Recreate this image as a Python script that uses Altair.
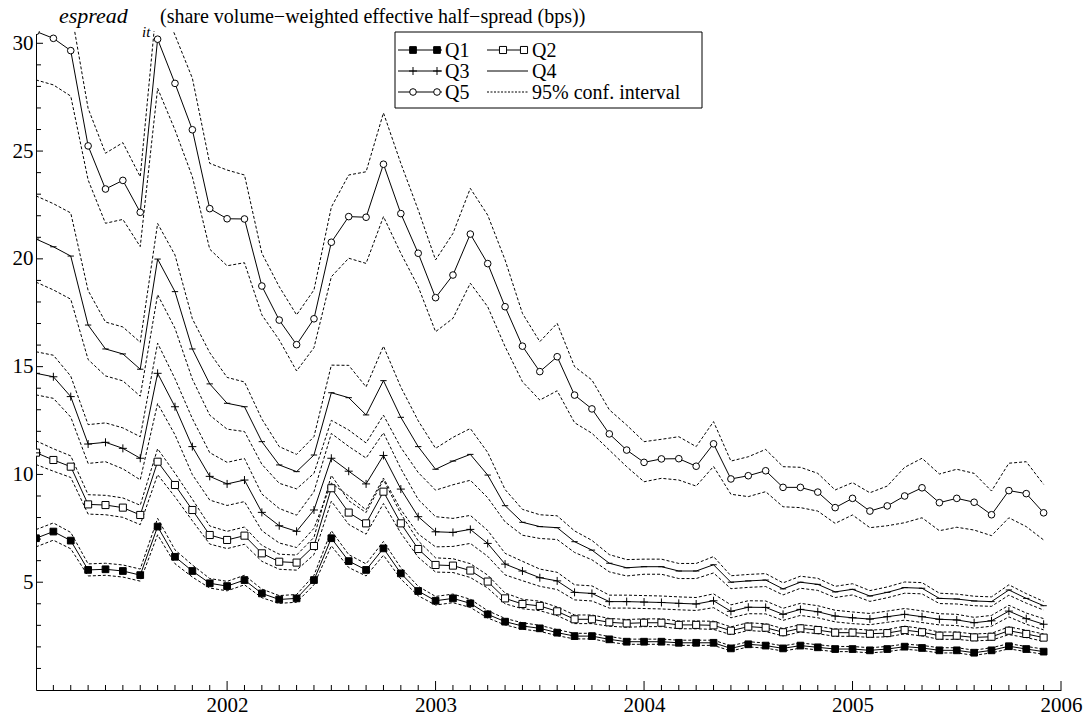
import altair as alt
import pandas as pd

# Monthly observations, Feb 2001 ... Dec 2005 (59 months)
n_months = 59
t_vals = [2001 + (i + 1) / 12 for i in range(n_months)]

q1 = [7.04, 7.35, 6.93, 5.57, 5.6, 5.52, 5.33, 7.58, 6.18, 5.52,
      4.95, 4.82, 5.1, 4.48, 4.2, 4.25, 5.1, 7.04, 5.98, 5.57,
      6.57, 5.41, 4.59, 4.14, 4.25, 4.02, 3.51, 3.17, 2.97, 2.86,
      2.66, 2.5, 2.5, 2.35, 2.24, 2.24, 2.24, 2.19, 2.19, 2.19,
      1.93, 2.12, 2.06, 1.93, 2.06, 1.98, 1.9, 1.9, 1.84, 1.9,
      2.01, 1.95, 1.84, 1.84, 1.73, 1.84, 2.03, 1.9, 1.78]
q2 = [11.01, 10.67, 10.36, 8.61, 8.58, 8.46, 8.12, 10.59, 9.51, 8.35,
      7.19, 6.96, 7.16, 6.34, 5.95, 5.91, 6.68, 9.36, 8.23, 7.73,
      9.2, 7.73, 6.54, 5.8, 5.77, 5.54, 5.03, 4.25, 3.99, 3.9,
      3.65, 3.28, 3.28, 3.14, 3.09, 3.12, 3.12, 3.02, 3.02, 3.0,
      2.75, 2.94, 2.89, 2.68, 2.86, 2.78, 2.66, 2.66, 2.61, 2.64,
      2.78, 2.68, 2.52, 2.52, 2.44, 2.47, 2.75, 2.6, 2.43]
q3 = [14.69, 14.53, 13.61, 11.41, 11.49, 11.21, 10.75, 14.69, 13.14, 11.29,
      9.91, 9.56, 9.74, 8.24, 7.62, 7.36, 8.35, 10.75, 10.15, 9.56,
      10.88, 9.32, 8.04, 7.34, 7.31, 7.45, 6.8, 5.84, 5.52, 5.21,
      5.06, 4.53, 4.48, 4.1, 4.1, 4.08, 4.06, 4.02, 3.99, 4.14,
      3.65, 3.84, 3.83, 3.51, 3.74, 3.63, 3.43, 3.35, 3.29, 3.4,
      3.51, 3.4, 3.28, 3.25, 3.12, 3.21, 3.66, 3.31, 3.05]
q4 = [20.92, 20.56, 20.13, 16.93, 15.82, 15.59, 14.88, 19.99, 18.48, 15.82,
      14.2, 13.3, 13.14, 11.52, 10.44, 10.13, 10.9, 13.79, 13.56, 12.76,
      14.35, 12.65, 11.29, 10.24, 10.62, 10.93, 9.97, 8.55, 7.78, 7.58,
      7.53, 6.88, 6.49, 5.88, 5.67, 5.72, 5.72, 5.52, 5.52, 5.81,
      5.0, 5.06, 5.1, 4.69, 5.0, 4.9, 4.55, 4.67, 4.36, 4.53,
      4.75, 4.72, 4.25, 4.22, 4.13, 4.1, 4.64, 4.25, 3.91]
q5 = [30.55, 30.23, 29.66, 25.24, 23.24, 23.64, 22.16, 30.19, 28.14, 25.99,
      22.33, 21.86, 21.85, 18.74, 17.16, 16.02, 17.22, 20.77, 21.96, 21.93,
      24.39, 22.1, 20.26, 18.2, 19.25, 21.15, 19.78, 17.78, 15.95, 14.77,
      15.46, 13.68, 13.04, 11.88, 11.13, 10.56, 10.72, 10.73, 10.38, 11.42,
      9.79, 9.94, 10.17, 9.4, 9.4, 9.18, 8.46, 8.89, 8.3, 8.54,
      9.0, 9.38, 8.69, 8.89, 8.71, 8.13, 9.25, 9.11, 8.22]

# 95% confidence bounds for Q5
q5_hi = [32.6, 32.3, 31.6, 26.98, 24.9, 25.39, 23.81, 32.3, 30.38, 28.38,
         24.43, 24.12, 23.89, 20.26, 18.71, 17.4, 18.56, 22.4, 23.89, 24.04,
         26.77, 24.43, 22.27, 19.95, 21.18, 23.27, 22.03, 19.95, 17.47, 16.16,
         17.01, 15.0, 14.38, 13.0, 12.29, 11.52, 11.63, 11.75, 11.29, 12.45,
         10.62, 10.82, 11.16, 10.36, 10.33, 10.05, 9.28, 9.62, 9.15, 9.46,
         10.33, 10.75, 10.02, 10.24, 10.05, 9.23, 10.52, 10.59, 9.54]
q5_lo = [28.3, 28.07, 27.55, 23.66, 21.65, 21.83, 20.57, 27.91, 25.98, 23.81,
         20.45, 19.68, 19.82, 17.4, 16.24, 14.8, 15.88, 19.17, 20.03, 19.79,
         21.96, 20.26, 18.71, 16.62, 17.24, 18.87, 17.78, 15.93, 14.3, 13.45,
         13.88, 12.4, 11.91, 11.13, 10.36, 9.66, 9.82, 9.74, 9.46, 10.37,
         9.08, 8.97, 9.2, 8.5, 8.46, 8.3, 7.73, 8.12, 7.53, 7.62,
         7.76, 7.99, 7.39, 7.55, 7.42, 7.16, 7.99, 7.58, 6.96]

# half-widths of the 95% confidence intervals for Q1..Q4
q4_hw = [2.0, 2.0, 2.0, 1.6, 1.25, 1.25, 1.25, 1.65, 1.7, 1.4,
         1.45, 1.2, 1.15, 1.05, 0.85, 0.8, 0.85, 1.28, 1.5, 1.3,
         1.6, 1.4, 1.2, 0.97, 1.1, 1.2, 1.05, 0.75, 0.6, 0.55,
         0.55, 0.5, 0.45, 0.4, 0.38, 0.35, 0.35, 0.35, 0.35, 0.38,
         0.3, 0.3, 0.3, 0.28, 0.28, 0.28, 0.26, 0.26, 0.25, 0.25,
         0.26, 0.26, 0.24, 0.23, 0.22, 0.22, 0.24, 0.22, 0.2]
q3_hw = [1.0, 1.0, 0.95, 0.9, 0.9, 0.95, 1.0, 1.4, 1.3, 1.3,
         1.1, 1.0, 1.0, 0.85, 0.8, 0.75, 0.85, 1.15, 1.15, 1.2,
         1.05, 0.95, 0.8, 0.7, 0.65, 0.65, 0.6, 0.5, 0.45, 0.4,
         0.4, 0.35, 0.35, 0.3, 0.3, 0.3, 0.3, 0.3, 0.3, 0.32,
         0.3, 0.3, 0.3, 0.28, 0.28, 0.28, 0.27, 0.27, 0.26, 0.26,
         0.27, 0.27, 0.26, 0.26, 0.25, 0.25, 0.27, 0.26, 0.26]
q2_hw = [0.55, 0.52, 0.5, 0.45, 0.45, 0.45, 0.45, 0.6, 0.55, 0.5,
         0.42, 0.4, 0.4, 0.37, 0.35, 0.35, 0.4, 0.6, 0.55, 0.5,
         0.55, 0.45, 0.38, 0.33, 0.32, 0.32, 0.3, 0.25, 0.22, 0.22,
         0.2, 0.2, 0.2, 0.18, 0.18, 0.18, 0.18, 0.18, 0.18, 0.19,
         0.18, 0.18, 0.18, 0.17, 0.17, 0.17, 0.17, 0.17, 0.17, 0.17,
         0.18, 0.17, 0.17, 0.17, 0.16, 0.16, 0.18, 0.17, 0.17]
q1_hw = [0.4, 0.4, 0.38, 0.28, 0.28, 0.28, 0.28, 0.38, 0.32, 0.28,
         0.22, 0.22, 0.22, 0.2, 0.18, 0.18, 0.22, 0.35, 0.3, 0.28,
         0.32, 0.26, 0.22, 0.2, 0.2, 0.19, 0.17, 0.15, 0.15, 0.14,
         0.14, 0.13, 0.13, 0.13, 0.12, 0.12, 0.12, 0.12, 0.12, 0.12,
         0.12, 0.12, 0.12, 0.12, 0.12, 0.12, 0.12, 0.12, 0.12, 0.12,
         0.12, 0.12, 0.12, 0.12, 0.12, 0.12, 0.12, 0.12, 0.12]

series_names = ["Q1", "Q2", "Q3", "Q4", "Q5"]
x_ticks = [2002, 2003, 2004, 2005, 2006]
y_ticks = [5, 10, 15, 20, 25, 30]

FONT = "Liberation Serif"
W, H = 1025, 659

# ---------- tables ----------
means = {"Q1": q1, "Q2": q2, "Q3": q3, "Q4": q4, "Q5": q5}
hws = {"Q1": q1_hw, "Q2": q2_hw, "Q3": q3_hw, "Q4": q4_hw}

mean_rows, ci_rows, ci5_rows = [], [], []
for s in series_names:
    for i, t in enumerate(t_vals):
        mean_rows.append({"t": t, "v": means[s][i], "series": s})
        if s in hws:
            ci_rows.append({"t": t, "v": means[s][i] + hws[s][i], "line": s + "_hi"})
            ci_rows.append({"t": t, "v": means[s][i] - hws[s][i], "line": s + "_lo"})
for i, t in enumerate(t_vals):
    ci5_rows.append({"t": t, "v": q5_hi[i], "line": "Q5_hi"})
    ci5_rows.append({"t": t, "v": q5_lo[i], "line": "Q5_lo"})

mean_df = pd.DataFrame(mean_rows)
ci_df = pd.DataFrame(ci_rows + ci5_rows)

x_scale = alt.Scale(domain=[2001 + 1 / 12, 2006], nice=False, zero=False)
y_scale = alt.Scale(domain=[0, 30.57], nice=False, zero=False)

x_axis = alt.Axis(values=x_ticks, format="d", ticks=False, tickSize=0, labelPadding=4,
                  domain=True, domainColor="black", domainWidth=1, grid=False, title=None,
                  labelFont=FONT, labelFontSize=21, labelColor="black", labelFlush=False,
                  labelOverlap=False)
y_axis = alt.Axis(values=y_ticks, format="d", ticks=False, tickSize=0, labelPadding=3,
                  domain=True, domainColor="black", domainWidth=1, grid=False, title=None,
                  labelFont=FONT, labelFontSize=21, labelColor="black", labelOverlap=False)

X = alt.X("t:Q", scale=x_scale, axis=x_axis)
Y = alt.Y("v:Q", scale=y_scale, axis=y_axis)

ci_layer = alt.Chart(ci_df).mark_line(
    clip=True, color="black", strokeWidth=1, strokeDash=[3, 2]
).encode(x=X, y=Y, detail="line:N")

mean_layer = alt.Chart(mean_df).mark_line(
    clip=True, color="black", strokeWidth=1
).encode(x=X, y=Y, detail="series:N")

CROSS = "M-1,0H1M0,-1V1"
DASH = "M-1,0H1"
marker_style = {
    "Q1": dict(shape="square", size=45, filled=True, fill="black", stroke="black", strokeWidth=1),
    "Q2": dict(shape="square", size=50, filled=True, fill="white", stroke="black", strokeWidth=1),
    "Q3": dict(shape=CROSS, size=64, filled=False, stroke="black", strokeWidth=1),
    "Q4": dict(shape=DASH, size=40, filled=False, stroke="black", strokeWidth=1),
    "Q5": dict(shape="circle", size=44, filled=True, fill="white", stroke="black", strokeWidth=1),
}

point_layers = []
for s in series_names:
    d = mean_df[mean_df["series"] == s]
    point_layers.append(
        alt.Chart(d).mark_point(clip=True, opacity=1, **marker_style[s]).encode(x=X, y=Y)
    )

# ---------- inward tick marks ----------
ymin = pd.DataFrame({"v": [v for v in range(1, 31) if v % 5 != 0]})
ymaj = pd.DataFrame({"v": y_ticks})
xmin = pd.DataFrame({"t": [2001 + k / 12 for k in range(2, 60) if k % 12 != 0]})
xmaj = pd.DataFrame({"t": x_ticks})

tick_layers = [
    alt.Chart(ymin).mark_rule(color="black", strokeWidth=1).encode(
        y=Y, x=alt.value(0), x2=alt.value(5)),
    alt.Chart(ymaj).mark_rule(color="black", strokeWidth=1).encode(
        y=Y, x=alt.value(0), x2=alt.value(7)),
    alt.Chart(xmin).mark_rule(color="black", strokeWidth=1).encode(
        x=X, y=alt.value(H), y2=alt.value(H - 5)),
    alt.Chart(xmaj).mark_rule(color="black", strokeWidth=1).encode(
        x=X, y=alt.value(H), y2=alt.value(H - 9)),
]

# ---------- title (italic variable with subscript) ----------
one = pd.DataFrame({"k": [0]})
title_layers = [
    alt.Chart(one).mark_text(text="espread", font=FONT, fontSize=22, fontStyle="italic",
                             align="left", baseline="alphabetic", color="black").encode(
        x=alt.value(23), y=alt.value(-8)),
    alt.Chart(one).mark_text(text="it", font=FONT, fontSize=15, fontStyle="italic",
                             align="left", baseline="alphabetic", color="black").encode(
        x=alt.value(106), y=alt.value(6)),
    alt.Chart(one).mark_text(text="(share volume\u2212weighted effective half\u2212spread (bps))",
                             font=FONT, fontSize=20, align="left", baseline="alphabetic",
                             color="black").encode(
        x=alt.value(124), y=alt.value(-8)),
]

# ---------- legend ----------
legend_layers = [
    alt.Chart(one).mark_rect(fill="white", stroke="black", strokeWidth=1).encode(
        x=alt.value(359), x2=alt.value(666), y=alt.value(1), y2=alt.value(77))
]
legend_items = [("Q1", 0, 0), ("Q2", 1, 0), ("Q3", 0, 1), ("Q4", 1, 1), ("Q5", 0, 2),
                ("95% conf. interval", 1, 2)]
col_line = [(362, 406), (451, 492)]
col_marks = [(377, 401), (467, 488)]
col_text = [409, 496]
row_y = [19, 40, 61]
for label, c, r in legend_items:
    x1, x2 = col_line[c]
    yy = row_y[r]
    if label in means:
        legend_layers.append(
            alt.Chart(one).mark_rule(color="black", strokeWidth=1).encode(
                x=alt.value(x1), x2=alt.value(x2), y=alt.value(yy)))
        if label != "Q4":
            for mx in col_marks[c]:
                legend_layers.append(
                    alt.Chart(one).mark_point(opacity=1, **marker_style[label]).encode(
                        x=alt.value(mx), y=alt.value(yy)))
    else:
        legend_layers.append(
            alt.Chart(one).mark_rule(color="black", strokeWidth=1, strokeDash=[2, 1.5]).encode(
                x=alt.value(x1), x2=alt.value(x2), y=alt.value(yy)))
    legend_layers.append(
        alt.Chart(one).mark_text(text=label, font=FONT, fontSize=20, align="left",
                                 baseline="alphabetic", color="black").encode(
            x=alt.value(col_text[c]), y=alt.value(yy + 7)))

chart = alt.layer(
    ci_layer, mean_layer, *point_layers, *tick_layers, *title_layers, *legend_layers
).properties(
    width=W, height=H,
    padding={"left": 36, "top": 31, "right": 27, "bottom": 29},
    autosize=alt.AutoSizeParams(type="none"),
    background="white",
).configure_view(stroke=None)

chart.save("out.html", embed_options={"renderer": "svg", "actions": False})
